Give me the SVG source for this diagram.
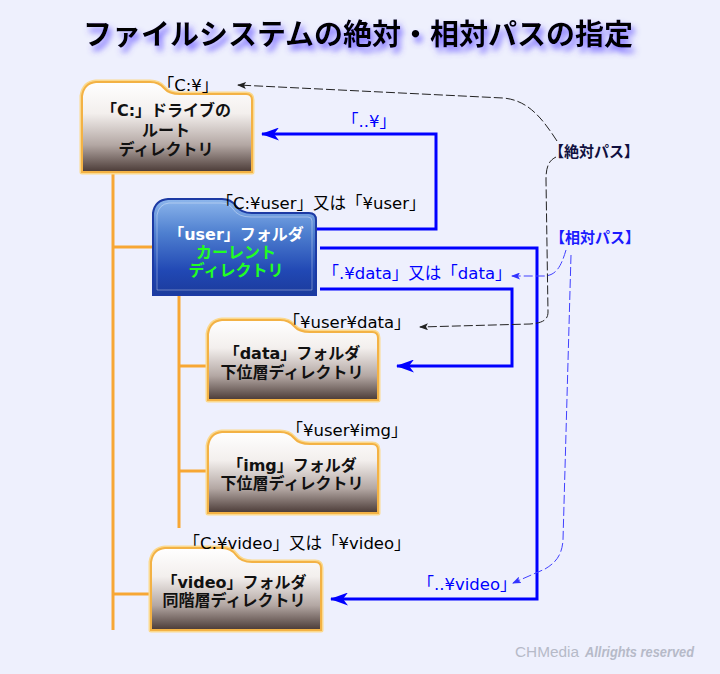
<svg xmlns="http://www.w3.org/2000/svg" width="720" height="674" viewBox="0 0 720 674">
<defs>
<style>
.bg{fill:#eef0fd}
.title{font-family:"Noto Sans CJK JP","Noto Sans",sans-serif;font-size:29px;font-weight:bold;fill:#000;text-anchor:middle}
.nt{font-family:"DejaVu Sans","Noto Sans CJK JP",sans-serif;font-size:16px;font-weight:bold;fill:#111;text-anchor:middle}
.lb{font-family:"DejaVu Sans","Noto Sans CJK JP",sans-serif;font-size:16.5px;fill:#000;text-anchor:middle}
.lbb{font-family:"DejaVu Sans","Noto Sans CJK JP",sans-serif;font-size:16.5px;fill:#0000ff;text-anchor:middle}
.key{font-family:"Noto Sans CJK JP","Noto Sans",sans-serif;font-size:15px;font-weight:bold;text-anchor:middle}
.fb{fill:url(#gBeige);stroke:#f3b245;stroke-width:2}
.fbg{fill:none;stroke:#fbd98e;stroke-width:5;stroke-linejoin:round}
.fu{fill:url(#gBlue);stroke:#1c3aa4;stroke-width:2}
.tree{stroke:#f7a734;stroke-width:3;fill:none}
.bl{stroke:#0000ff;stroke-width:3;fill:none}
.dk{stroke:#222;stroke-width:1;fill:none;stroke-dasharray:9 3}
.db{stroke:#4040ff;stroke-width:1;fill:none;stroke-dasharray:9 3}
.wm{font-family:"Liberation Sans",sans-serif;font-size:14px;font-weight:bold;fill:#b6bac8}
</style>
<linearGradient id="gBeige" x1="0" y1="0" x2="0" y2="1">
<stop offset="0" stop-color="#ffffff"/>
<stop offset="0.35" stop-color="#f3efed"/>
<stop offset="0.7" stop-color="#b3a7a3"/>
<stop offset="1" stop-color="#4a3a36"/>
</linearGradient>
<linearGradient id="gBlue" x1="0" y1="0" x2="0" y2="1">
<stop offset="0" stop-color="#8db6ec"/>
<stop offset="0.35" stop-color="#4f80d0"/>
<stop offset="0.75" stop-color="#2148b4"/>
<stop offset="1" stop-color="#1b3b9c"/>
</linearGradient>
<filter id="tshadow" x="-10%" y="-40%" width="120%" height="200%">
<feGaussianBlur in="SourceAlpha" stdDeviation="3" result="b"/>
<feOffset in="b" dx="3" dy="5" result="o"/>
<feFlood flood-color="#5b48ff" flood-opacity="0.85"/>
<feComposite in2="o" operator="in" result="s"/>
<feMerge><feMergeNode in="s"/><feMergeNode in="SourceGraphic"/></feMerge>
</filter>
<marker id="aBlue" markerWidth="19" markerHeight="13" refX="17" refY="6.5" orient="auto" markerUnits="userSpaceOnUse">
<path d="M0,0 L18,6.5 L0,13 L5,6.5 Z" fill="#0000ff"/>
</marker>
<marker id="aBlack" markerWidth="9" markerHeight="7" refX="8" refY="3.5" orient="auto" markerUnits="userSpaceOnUse">
<path d="M0,0 L9,3.5 L0,7 L2,3.5 Z" fill="#222"/>
</marker>
<marker id="aBlueS" markerWidth="9" markerHeight="7" refX="8" refY="3.5" orient="auto" markerUnits="userSpaceOnUse">
<path d="M0,0 L9,3.5 L0,7 L2,3.5 Z" fill="#3333ff"/>
</marker>
</defs>

<rect class="bg" x="0" y="0" width="720" height="674"/>

<text class="title" x="358" y="45" filter="url(#tshadow)">ファイルシステムの絶対・相対パスの指定</text>

<g id="tree">
<path class="tree" d="M113,172 V630 M113,247 H153 M113,594 H151 M179,295 V528 M179,366 H208 M179,471 H208"/>
</g>

<g id="connectors">
<path class="bl" d="M316,229 H436 V134 H262" marker-end="url(#aBlue)"/>
<path class="bl" d="M320,248 H537 V599 H331" marker-end="url(#aBlue)"/>
<path class="bl" d="M320,289 H512 V366 H397" marker-end="url(#aBlue)"/>
<path class="dk" d="M557,141 C542,118 528,100 503,98 L238,85" marker-end="url(#aBlack)"/>
<path class="dk" d="M556,157 C548,161 546,168 546,180 L548,312 C548,321 541,323 530,324 L420,327" marker-end="url(#aBlack)"/>
<path class="db" d="M566,250 C561,267 556,275 545,276 L512,276" marker-end="url(#aBlueS)"/>
<path class="db" d="M571,255 L563,540 C562,556 555,563 545,569 L513,583" marker-end="url(#aBlueS)"/>
</g>

<g id="node-root">
<path class="fbg" d="M82,172 V96 Q84,83 96,82 H150 Q159,82 164,88 Q169,94 180,94 H246 Q252,94 252,100 V172 Z"/>
<path class="fb" d="M82,172 V96 Q84,83 96,82 H150 Q159,82 164,88 Q169,94 180,94 H246 Q252,94 252,100 V172 Z"/>
<text class="nt" x="166" y="116">「C:」ドライブの</text>
<text class="nt" x="166" y="136">ルート</text>
<text class="nt" x="166" y="155">ディレクトリ</text>
</g>

<g id="node-user">
<path class="fu" d="M153,295 V213 Q155,200 168,199 H222 Q231,199 236,206 Q241,213 252,213 H309 Q316,213 316,220 V295 Z"/>
<path d="M157,290 V215 Q159,204 169,203 H221 Q229,203 233,209 Q238,217 251,217 H308 Q312,217 312,221 V290 Z" fill="none" stroke="#ffffff" stroke-opacity="0.35" stroke-width="1"/>
<text class="nt" x="236" y="240" style="fill:#ffffff">「user」フォルダ</text>
<text class="nt" x="236" y="258" style="fill:#22ff22">カーレント</text>
<text class="nt" x="236" y="276" style="fill:#22ff22">ディレクトリ</text>
</g>

<g id="node-data">
<path class="fbg" d="M208,400 V334 Q210,321 222,320 H280 Q289,320 294,326 Q299,332 310,332 H372 Q378,332 378,338 V400 Z"/>
<path class="fb" d="M208,400 V334 Q210,321 222,320 H280 Q289,320 294,326 Q299,332 310,332 H372 Q378,332 378,338 V400 Z"/>
<text class="nt" x="292" y="359">「data」フォルダ</text>
<text class="nt" x="292" y="378">下位層ディレクトリ</text>
</g>

<g id="node-img">
<path class="fbg" d="M208,513 V446 Q210,433 222,432 H280 Q289,432 294,438 Q299,444 310,444 H372 Q378,444 378,450 V513 Z"/>
<path class="fb" d="M208,513 V446 Q210,433 222,432 H280 Q289,432 294,438 Q299,444 310,444 H372 Q378,444 378,450 V513 Z"/>
<text class="nt" x="292" y="471">「img」フォルダ</text>
<text class="nt" x="292" y="489">下位層ディレクトリ</text>
</g>

<g id="node-video">
<path class="fbg" d="M151,630 V562 Q153,549 165,548 H222 Q231,548 236,555 Q241,562 252,562 H315 Q321,562 321,568 V630 Z"/>
<path class="fb" d="M151,630 V562 Q153,549 165,548 H222 Q231,548 236,555 Q241,562 252,562 H315 Q321,562 321,568 V630 Z"/>
<text class="nt" x="234" y="588">「video」フォルダ</text>
<text class="nt" x="234" y="606">同階層ディレクトリ</text>
</g>

<g id="labels">
<text class="lb" x="188" y="91">「C:¥」</text>
<text class="lbb" x="369" y="127">「..¥」</text>
<text class="lb" x="321" y="209">「C:¥user」又は「¥user」</text>
<text class="lbb" x="417" y="279">「.¥data」又は「data」</text>
<text class="lb" x="347" y="328">「¥user¥data」</text>
<text class="lb" x="347" y="436">「¥user¥img」</text>
<text class="lb" x="297" y="549">「C:¥video」又は「¥video」</text>
<text class="lbb" x="467" y="590">「..¥video」</text>
<text class="key" x="594" y="157" style="fill:#101040">【絶対パス】</text>
<text class="key" x="595" y="243" style="fill:#1a1aff">【相対パス】</text>
</g>

<text class="wm" x="515" y="657"><tspan textLength="64" lengthAdjust="spacingAndGlyphs" style="font-weight:normal">CHMedia</tspan><tspan x="585" textLength="109" lengthAdjust="spacingAndGlyphs" style="font-style:italic">Allrights reserved</tspan></text>
</svg>
